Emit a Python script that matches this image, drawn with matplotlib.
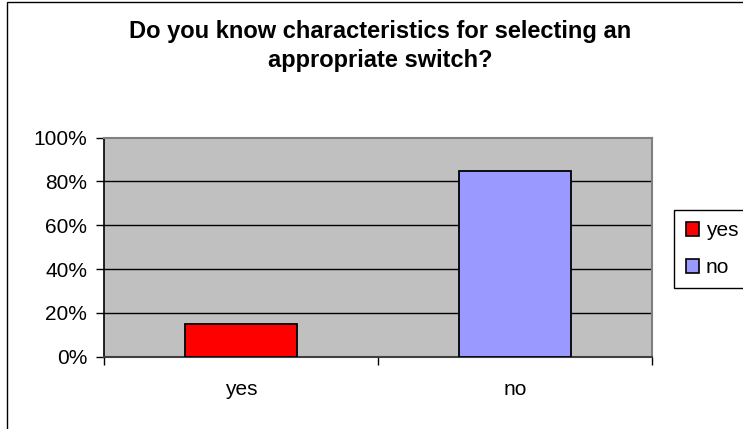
import matplotlib
matplotlib.use("Agg")
import matplotlib.pyplot as plt
from matplotlib.patches import Patch, Rectangle

categories = ["yes", "no"]
values = [15, 85]
colors = ["#FF0000", "#9999FF"]
yticks = [0, 20, 40, 60, 80, 100]
ytick_labels = ["0%", "20%", "40%", "60%", "80%", "100%"]
title = "Do you know characteristics for selecting an\nappropriate switch?"

plt.rcParams['font.family'] = ['Liberation Sans', 'DejaVu Sans']

W, H = 743, 429
fig = plt.figure(figsize=(W / 100, H / 100), dpi=100)

# chart area border
fig.patches.append(Rectangle((7 / W, -0.05), 1.1, 1 - 2 / H + 0.05, transform=fig.transFigure,
                             fill=False, edgecolor="#000000", linewidth=1.0))

L, R, T, B = 103.7, 652.3, 137.7, 356.7
ax = fig.add_axes([L / W, 1 - B / H, (R - L) / W, (B - T) / H])
ax.set_facecolor("#C0C0C0")

x = range(len(categories))
ax.bar(x, values, width=0.41, color=colors, edgecolor="black", linewidth=1.3, zorder=3)
ax.set_xlim(-0.5, 1.5)
ax.set_ylim(0, 100)

for yv in yticks[1:-1]:
    ax.axhline(yv, color="black", linewidth=1.0, zorder=1)

ax.set_yticks(yticks)
ax.set_yticklabels(ytick_labels, fontsize=15)
ax.set_xticks([0, 1])
ax.set_xticklabels(categories, fontsize=15)
ax.set_xticks([-0.5, 0.5, 1.5], minor=True)
ax.tick_params(axis="x", which="major", length=0, pad=17)
ax.tick_params(axis="x", which="minor", length=6, width=1, color="#000000")
ax.tick_params(axis="y", length=6, width=1, pad=6)

ax.spines["left"].set_color("black")
ax.spines["left"].set_linewidth(1.2)
ax.spines["bottom"].set_color("#404040")
ax.spines["bottom"].set_linewidth(1.5)
ax.spines["top"].set_color("#808080")
ax.spines["top"].set_linewidth(1.5)
ax.spines["right"].set_color("#808080")
ax.spines["right"].set_linewidth(1.5)

fig.text(380 / W, 1 - 20 / H, title, ha="center", va="top", fontsize=17, fontweight="bold",
         linespacing=1.35)

handles = [Patch(facecolor=c, edgecolor="black", linewidth=1.2) for c in colors]
leg = fig.legend(handles, categories, loc="upper left",
                 bbox_to_anchor=(674.3 / W, 1 - 209.7 / H), bbox_transform=fig.transFigure,
                 fontsize=15, frameon=True, fancybox=False, framealpha=1,
                 handlelength=0.65, handleheight=0.65, handletextpad=0.3,
                 borderpad=0.55, labelspacing=0.85, borderaxespad=0)
leg.get_frame().set_edgecolor("black")
leg.get_frame().set_linewidth(1.0)

fig.savefig("out.png", dpi=100)
